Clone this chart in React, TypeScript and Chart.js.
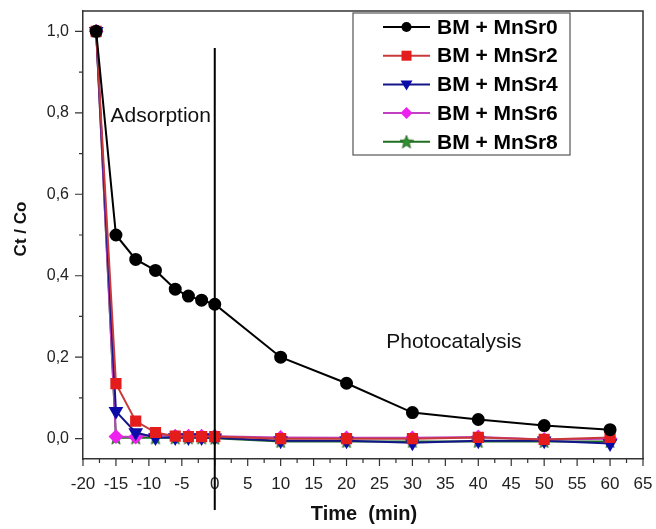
import React, { useEffect, useRef } from "react";
import { Chart, registerables } from "chart.js";

Chart.register(...registerables);

const timeMin = [-18, -15, -12, -9, -6, -4, -2, 0, 10, 20, 30, 40, 50, 60];
const mnSr0 = [1.0, 0.5, 0.44, 0.413, 0.367, 0.35, 0.34, 0.33, 0.2, 0.136, 0.064, 0.047, 0.032, 0.022];
const mnSr2 = [1.0, 0.135, 0.043, 0.015, 0.006, 0.005, 0.005, 0.005, 0.0, 0.0, 0.0, 0.003, -0.002, 0.003];
const mnSr4 = [1.0, 0.067, 0.015, 0.003, 0.003, 0.003, 0.003, 0.002, -0.005, -0.005, -0.01, -0.005, -0.005, -0.012];
const mnSr6 = [1.0, 0.005, 0.004, 0.01, 0.006, 0.006, 0.006, 0.006, 0.003, 0.002, 0.002, 0.004, -0.002, 0.0];
const mnSr8 = [1.0, 0.002, 0.002, 0.002, 0.002, 0.002, 0.002, 0.001, -0.007, -0.007, -0.007, -0.007, -0.007, -0.007];

const seriesNames = ["BM + MnSr0", "BM + MnSr2", "BM + MnSr4", "BM + MnSr6", "BM + MnSr8"];
const xTickValues = [-20, -15, -10, -5, 0, 5, 10, 15, 20, 25, 30, 35, 40, 45, 50, 55, 60, 65];
const yTickValues = [0, 0.2, 0.4, 0.6, 0.8, 1.0];
const yTickLabels = ["0,0", "0,2", "0,4", "0,6", "0,8", "1,0"];

function makeStar(color: string, size: number) {
  const c = document.createElement("canvas");
  c.width = size;
  c.height = size;
  const ctx = c.getContext("2d")!;
  const cx = size / 2, cy = size / 2 + 0.5;
  const R = size / 2, r = R * 0.42;
  ctx.beginPath();
  for (let i = 0; i < 10; i++) {
    const rad = i % 2 === 0 ? R : r;
    const a = -Math.PI / 2 + (i * Math.PI) / 5;
    const px = cx + rad * Math.cos(a), py = cy + rad * Math.sin(a);
    if (i === 0) ctx.moveTo(px, py); else ctx.lineTo(px, py);
  }
  ctx.closePath();
  ctx.fillStyle = color;
  ctx.fill();
  ctx.strokeStyle = "#1e5e1e";
  ctx.lineWidth = 0.8;
  ctx.stroke();
  return c;
}

function zeroPad(s: any) {
  s.paddingTop = 0;
  s.paddingBottom = 0;
  s.paddingLeft = 0;
  s.paddingRight = 0;
}

export default function App() {
  const ref = useRef<HTMLCanvasElement>(null);
  useEffect(() => {
    const canvas = ref.current!;
    const star = makeStar("#2f8f2f", 14);
    const styles = [
      { line: "#000000", fill: "#000000", ps: "circle" as any, r: 5.5, rot: 0 },
      { line: "#c83a3a", fill: "#e51c1c", ps: "rect" as any, r: 6.5, rot: 0 },
      { line: "#15158a", fill: "#0c0ca8", ps: "triangle" as any, r: 6.5, rot: 180 },
      { line: "#c040c0", fill: "#ee22ee", ps: "rectRot" as any, r: 6, rot: 0 },
      { line: "#1f6e1f", fill: "#2f8f2f", ps: star as any, r: 7, rot: 0 },
    ];
    const values = [mnSr0, mnSr2, mnSr4, mnSr6, mnSr8];
    const datasets = values.map((vals, i) => ({
      label: seriesNames[i],
      data: timeMin.map((t, j) => ({ x: t, y: vals[j] })),
      borderColor: styles[i].line,
      backgroundColor: styles[i].fill,
      pointBackgroundColor: styles[i].fill,
      pointBorderColor: styles[i].fill,
      pointStyle: styles[i].ps,
      pointRadius: styles[i].r,
      pointRotation: styles[i].rot,
      borderWidth: 2,
      showLine: true,
      tension: 0,
    }));

    const overlay = {
      id: "overlay",
      afterDraw(chart: any) {
        const ctx = chart.ctx;
        const xs = chart.scales.x, ys = chart.scales.y;
        const a = chart.chartArea;
        ctx.save();
        // frame top & right
        ctx.strokeStyle = "#333";
        ctx.lineWidth = 1.5;
        ctx.beginPath();
        ctx.moveTo(a.left, a.top);
        ctx.lineTo(a.right, a.top);
        ctx.lineTo(a.right, a.bottom);
        ctx.stroke();
        // ticks
        ctx.lineWidth = 1.2;
        ctx.beginPath();
        for (let v = -20; v <= 65.001; v += 2.5) {
          const px = xs.getPixelForValue(v);
          const major = Math.abs(v / 5 - Math.round(v / 5)) < 1e-6;
          ctx.moveTo(px, a.bottom);
          ctx.lineTo(px, a.bottom + (major ? 7 : 4));
        }
        for (let k = 0; k <= 10; k++) {
          const v = k / 10;
          const py = ys.getPixelForValue(v);
          ctx.moveTo(a.left, py);
          ctx.lineTo(a.left - (k % 2 === 0 ? 8 : 4), py);
        }
        ctx.stroke();
        // vertical separator at t=0
        const x0 = xs.getPixelForValue(0);
        ctx.strokeStyle = "#000";
        ctx.lineWidth = 2;
        ctx.beginPath();
        ctx.moveTo(x0, ys.getPixelForValue(0.959));
        ctx.lineTo(x0, a.bottom + 51);
        ctx.stroke();
        // annotations
        ctx.fillStyle = "#111";
        ctx.font = "21px 'Liberation Sans', Arial, sans-serif";
        ctx.textAlign = "center";
        ctx.textBaseline = "alphabetic";
        ctx.fillText("Adsorption", xs.getPixelForValue(-8.2), ys.getPixelForValue(0.777));
        ctx.fillText("Photocatalysis", xs.getPixelForValue(36.3), ys.getPixelForValue(0.222));
        // axis titles
        ctx.font = "bold 20px 'Liberation Sans', Arial, sans-serif";
        ctx.textBaseline = "middle";
        ctx.fillText("Time  (min)", (a.left + a.right) / 2 + 1, a.bottom + 55);
        ctx.save();
        ctx.translate(21, (a.top + a.bottom) / 2 - 6);
        ctx.rotate(-Math.PI / 2);
        ctx.font = "bold 17px 'Liberation Sans', Arial, sans-serif";
        ctx.fillText("Ct / Co", 0, 0);
        ctx.restore();
        // legend
        const bx = a.right - 290, by = a.top + 2, bw = 217, bh = 142;
        ctx.fillStyle = "#fff";
        ctx.fillRect(bx, by, bw, bh);
        ctx.strokeStyle = "#555";
        ctx.lineWidth = 1.2;
        ctx.strokeRect(bx, by, bw, bh);
        chart.data.datasets.forEach((ds: any, i: number) => {
          const cy = by + 14 + i * 28.7;
          const lx0 = bx + 30, lx1 = bx + 77, mx = (lx0 + lx1) / 2;
          ctx.strokeStyle = ds.borderColor;
          ctx.lineWidth = 2;
          ctx.beginPath();
          ctx.moveTo(lx0, cy);
          ctx.lineTo(lx1, cy);
          ctx.stroke();
          const st = styles[i];
          ctx.fillStyle = st.fill;
          ctx.beginPath();
          if (st.ps === "circle") {
            ctx.arc(mx, cy, 5, 0, Math.PI * 2);
            ctx.fill();
          } else if (st.ps === "rect") {
            ctx.fillRect(mx - 5, cy - 5, 10, 10);
          } else if (st.ps === "triangle") {
            ctx.moveTo(mx - 6, cy - 4);
            ctx.lineTo(mx + 6, cy - 4);
            ctx.lineTo(mx, cy + 6);
            ctx.closePath();
            ctx.fill();
          } else if (st.ps === "rectRot") {
            ctx.moveTo(mx, cy - 6);
            ctx.lineTo(mx + 6, cy);
            ctx.lineTo(mx, cy + 6);
            ctx.lineTo(mx - 6, cy);
            ctx.closePath();
            ctx.fill();
          } else {
            ctx.drawImage(star, mx - 7, cy - 7);
          }
          ctx.fillStyle = "#000";
          ctx.font = "bold 21px 'Liberation Sans', Arial, sans-serif";
          ctx.textAlign = "left";
          ctx.textBaseline = "middle";
          ctx.fillText(ds.label, bx + 84, cy + 1);
        });
        ctx.restore();
      },
    };

    const chart = new Chart(canvas, {
      type: "scatter",
      data: { datasets: datasets as any },
      options: {
        animation: false,
        responsive: false,
        devicePixelRatio: 1,
        layout: { padding: { left: 0, right: 13, top: 11, bottom: 0 } },
        plugins: { legend: { display: false }, tooltip: { enabled: false } },
        scales: {
          x: {
            type: "linear",
            min: -20,
            max: 65,
            grid: { display: false },
            border: { display: true, color: "#333", width: 1.5 },
            afterBuildTicks: (s: any) => { s.ticks = xTickValues.map((v) => ({ value: v })); },
            afterFit: (s: any) => { s.height = 70; zeroPad(s); },
            ticks: {
              color: "#222",
              padding: 7,
              maxRotation: 0,
              autoSkip: false,
              font: { family: "'Liberation Sans', Arial, sans-serif", size: 17 },
              callback: (v: any) => String(v),
            },
          },
          y: {
            type: "linear",
            min: -0.05,
            max: 1.05,
            grid: { display: false },
            border: { display: true, color: "#333", width: 1.5 },
            afterBuildTicks: (s: any) => { s.ticks = yTickValues.map((v) => ({ value: v })); },
            afterFit: (s: any) => { s.width = 83; zeroPad(s); },
            ticks: {
              color: "#222",
              padding: 6,
              autoSkip: false,
              font: { family: "'Liberation Sans', Arial, sans-serif", size: 16 },
              callback: (v: any) => {
                const idx = yTickValues.findIndex((t) => Math.abs(t - v) < 1e-9);
                return idx >= 0 ? yTickLabels[idx] : "";
              },
            },
          },
        },
      },
      plugins: [overlay],
    });
    return () => chart.destroy();
  }, []);
  return (
    <div style={{ position: "fixed", left: 0, top: 0, width: 656, height: 529, background: "#fff" }}>
      <canvas ref={ref} width={656} height={529} style={{ width: 656, height: 529, display: "block" }} />
    </div>
  );
}
